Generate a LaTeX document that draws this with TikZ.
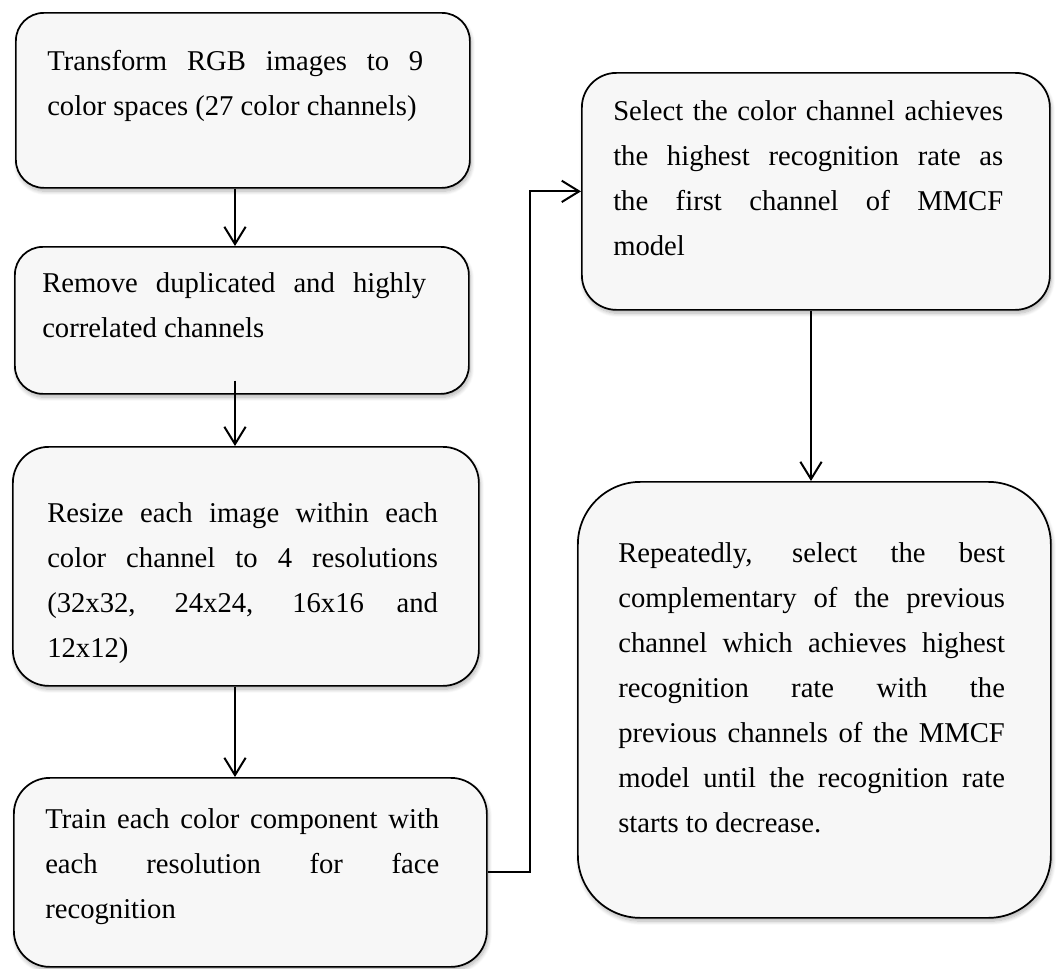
\documentclass[tikz,border=0pt]{standalone}
\usepackage{fontspec}
\setmainfont{Liberation Serif}
\usetikzlibrary{arrows.meta,calc,shadows.blur}
\definecolor{boxfill}{HTML}{F7F7F7}
% one justified line of a step description
\newcommand{\justline}[1]{\makebox[\linewidth][s]{#1}}
\tikzset{
  stage/.style={draw=black, line width=1.3pt, fill=boxfill, rounded corners=#1,
    inner sep=0pt, anchor=north west,
    blur shadow={shadow xshift=1pt, shadow yshift=-2.5pt, shadow blur radius=3pt,
      shadow blur steps=8, shadow opacity=30, shadow blur extra rounding=3pt}},
  steptext/.style={anchor=base west, inner sep=0pt},
  flow/.style={draw=black, line width=1.5pt,
    -{Straight Barb[length=13pt,width=16pt,line width=1.5pt]}}
}
\newcommand{\stepfont}{\fontsize{21.5}{33.75}\selectfont}
\begin{document}
\begin{tikzpicture}[x=0.75pt,y=-0.75pt]
\useasboundingbox (0,0) rectangle (1057,968);

% step boxes
\node[stage=21pt, minimum width=340.5pt,  minimum height=131.25pt] (b1) at (15,12) {};
\node[stage=21pt, minimum width=340.5pt,  minimum height=110.25pt] (b2) at (14,246) {};
\node[stage=27pt, minimum width=349.5pt,  minimum height=179.25pt] (b3) at (12,446) {};
\node[stage=27pt, minimum width=354.75pt, minimum height=141.75pt] (b4) at (13,777) {};
\node[stage=26pt, minimum width=351pt,    minimum height=177.75pt] (b5) at (581,72) {};
\node[stage=47pt, minimum width=354.75pt, minimum height=327pt]    (b6) at (577,481) {};

% step texts
\node[steptext] (t1) at ($(b1.north west)+(32,58)$) {\begin{minipage}[t]{282pt}\stepfont
\justline{Transform RGB images to 9}\\
color spaces (27 color channels)\end{minipage}};
\node[steptext] (t2) at ($(b2.north west)+(28,46)$) {\begin{minipage}[t]{288pt}\stepfont
\justline{Remove duplicated and highly}\\
correlated channels\end{minipage}};
\node[steptext] (t3) at ($(b3.north west)+(35,76)$) {\begin{minipage}[t]{293pt}\stepfont
\justline{Resize each image within each}\\
\justline{color channel to 4 resolutions}\\
\justline{(32x32, 24x24, 16x16 and}\\
12x12)\end{minipage}};
\node[steptext] (t4) at ($(b4.north west)+(32,51)$) {\begin{minipage}[t]{295.5pt}\stepfont
\justline{Train each color component with}\\
\justline{each resolution for face}\\
recognition\end{minipage}};
\node[steptext] (t5) at ($(b5.north west)+(32,48)$) {\begin{minipage}[t]{292.5pt}\stepfont
\justline{Select the color channel achieves}\\
\justline{the highest recognition rate as}\\
\justline{the first channel of MMCF}\\
model\end{minipage}};
\node[steptext] (t6) at ($(b6.north west)+(41,81)$) {\begin{minipage}[t]{290pt}\stepfont
\justline{Repeatedly, select the best}\\
\justline{complementary of the previous}\\
\justline{channel which achieves highest}\\
\justline{recognition rate with the}\\
\justline{previous channels of the MMCF}\\
\justline{model until the recognition rate}\\
starts to decrease.\end{minipage}};

% connector guides
\coordinate (ax) at (235,0);
\coordinate (bx) at (811,0);
\coordinate (vx) at (530,0);

% connectors
\draw[flow] (b1.south -| ax) -- (b2.north -| ax);
\draw[flow] ($(b2.south -| ax)+(0,-14)$) -- (b3.north -| ax);
\draw[flow] (b3.south -| ax) -- (b4.north -| ax);
\draw[flow] (b4.east) -- (b4.east -| vx) -- (vx |- b5.west) -- (b5.west);
\draw[flow] (b5.south -| bx) -- (b6.north -| bx);
\end{tikzpicture}
\end{document}
